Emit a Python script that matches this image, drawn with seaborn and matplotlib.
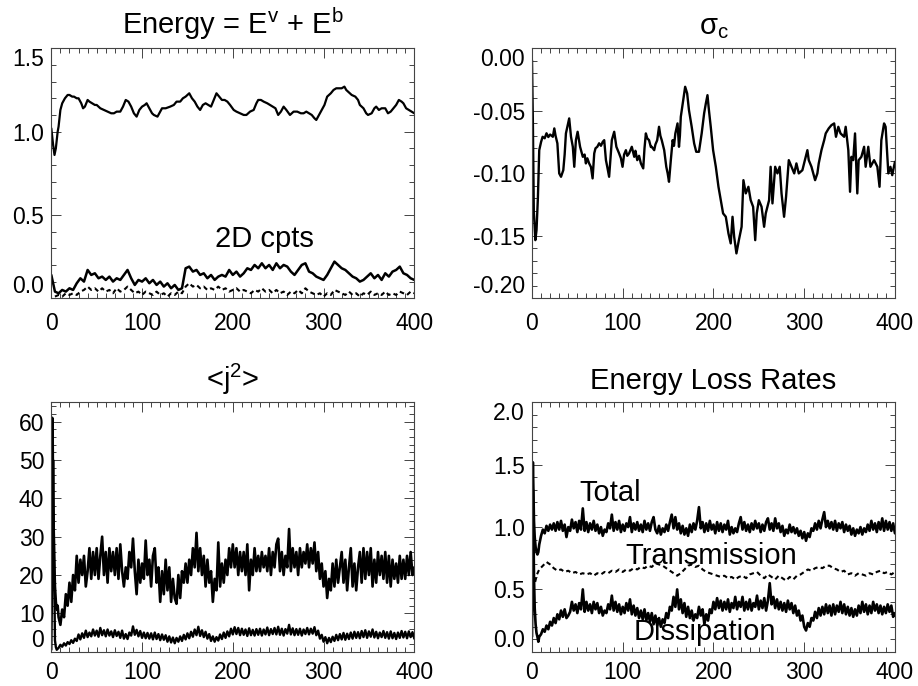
import numpy as np
import matplotlib
matplotlib.use("Agg")
import matplotlib.pyplot as plt
import seaborn as sns
from matplotlib.ticker import MultipleLocator, FormatStrFormatter

# ---------------------------------------------------------------- data
# total energy E^v + E^b (sample times and values)
energy_t = [0, 1, 2, 3.5, 5, 7, 8, 10, 12, 15, 18, 20, 23, 25, 28, 30, 33, 35, 37, 40,
            42, 45, 48, 50, 54, 58, 62, 66, 69, 72, 76, 79, 82, 85, 88, 91, 94, 97, 100,
            103, 105, 108, 111, 113, 117, 120, 122, 126, 131, 135, 138, 142, 145, 148,
            152, 155, 158, 161, 164, 167, 170, 173, 176, 179, 182, 185, 188, 191, 194,
            197, 201, 204, 208, 212, 215, 219, 223, 226, 228, 231, 234, 238, 241, 244,
            247, 250, 253, 256, 259, 263, 267, 271, 275, 278, 281, 284, 287, 290, 292,
            295, 298, 301, 304, 308, 311, 314, 317, 320, 323, 325, 327, 331, 335, 338,
            340, 344, 347, 349, 353, 356, 358, 361, 364, 368, 371, 374, 377, 380, 383,
            386, 388, 391, 394, 397, 400]
energy_total = [1.02, 0.97, 0.92, 0.86, 0.90, 1.00, 1.03, 1.13, 1.17, 1.20, 1.22, 1.22,
                1.21, 1.21, 1.20, 1.20, 1.17, 1.14, 1.15, 1.19, 1.18, 1.17, 1.16, 1.16,
                1.14, 1.13, 1.12, 1.11, 1.11, 1.12, 1.12, 1.15, 1.19, 1.18, 1.15, 1.11,
                1.09, 1.13, 1.15, 1.16, 1.17, 1.14, 1.11, 1.10, 1.09, 1.12, 1.14, 1.14,
                1.15, 1.16, 1.18, 1.18, 1.20, 1.21, 1.23, 1.20, 1.18, 1.15, 1.13, 1.16,
                1.17, 1.16, 1.15, 1.19, 1.23, 1.21, 1.19, 1.19, 1.18, 1.16, 1.13, 1.12,
                1.11, 1.10, 1.10, 1.12, 1.13, 1.17, 1.19, 1.19, 1.18, 1.17, 1.16, 1.15,
                1.14, 1.10, 1.12, 1.15, 1.13, 1.10, 1.12, 1.12, 1.11, 1.11, 1.12, 1.11,
                1.10, 1.08, 1.07, 1.10, 1.13, 1.16, 1.21, 1.23, 1.25, 1.26, 1.26, 1.26,
                1.27, 1.25, 1.24, 1.22, 1.21, 1.19, 1.16, 1.14, 1.11, 1.10, 1.11, 1.14,
                1.15, 1.13, 1.14, 1.14, 1.11, 1.12, 1.14, 1.16, 1.19, 1.18, 1.17, 1.14,
                1.13, 1.12, 1.11]

# 2D components of the energy, sampled every 4 time units
cpt_step = 4
cpt_solid = [0.14, 0.04, 0.03, 0.05, 0.04, 0.06, 0.05, 0.09, 0.12, 0.10, 0.17, 0.14, 0.15,
             0.12, 0.13, 0.11, 0.13, 0.10, 0.12, 0.11, 0.14, 0.17, 0.12, 0.08, 0.11, 0.10,
             0.12, 0.09, 0.11, 0.08, 0.10, 0.07, 0.09, 0.06, 0.08, 0.05, 0.06, 0.18, 0.19,
             0.16, 0.17, 0.14, 0.15, 0.12, 0.14, 0.11, 0.13, 0.14, 0.13, 0.17, 0.14, 0.16,
             0.13, 0.15, 0.18, 0.17, 0.20, 0.18, 0.21, 0.18, 0.20, 0.17, 0.21, 0.18, 0.20,
             0.19, 0.16, 0.14, 0.17, 0.20, 0.21, 0.16, 0.15, 0.13, 0.12, 0.11, 0.14, 0.18,
             0.22, 0.20, 0.18, 0.17, 0.15, 0.13, 0.12, 0.10, 0.11, 0.13, 0.15, 0.12, 0.14,
             0.11, 0.15, 0.13, 0.16, 0.17, 0.19, 0.15, 0.14, 0.12, 0.11]
cpt_dashed = [0.01, 0.02, 0.01, 0.03, 0.02, 0.03, 0.02, 0.04, 0.05, 0.07, 0.05, 0.06, 0.04,
              0.06, 0.04, 0.05, 0.03, 0.06, 0.04, 0.05, 0.07, 0.05, 0.03, 0.04, 0.02, 0.04,
              0.03, 0.02, 0.04, 0.02, 0.03, 0.01, 0.03, 0.02, 0.04, 0.03, 0.07, 0.09, 0.07,
              0.08, 0.06, 0.07, 0.05, 0.06, 0.05, 0.07, 0.05, 0.06, 0.04, 0.05, 0.06, 0.04,
              0.05, 0.04, 0.03, 0.05, 0.04, 0.06, 0.04, 0.05, 0.03, 0.05, 0.03, 0.04, 0.02,
              0.04, 0.03, 0.05, 0.03, 0.06, 0.04, 0.03, 0.02, 0.03, 0.01, 0.03, 0.02, 0.05,
              0.04, 0.03, 0.02, 0.04, 0.02, 0.03, 0.01, 0.03, 0.02, 0.04, 0.02, 0.03, 0.02,
              0.04, 0.02, 0.03, 0.02, 0.04, 0.03, 0.02, 0.04, 0.03]

# normalised cross helicity sigma_c
sigma_t = [0, 1, 2, 3.7, 5, 6.5, 8, 10, 11.7, 14, 16, 18, 20, 23, 24.6, 26, 28, 30, 32, 34.5,
           36, 37.4, 39, 41, 43, 45, 46.6, 48.4, 50.3, 53, 56, 58, 59.4, 61, 63, 65, 66.8,
           68.6, 70, 72, 74, 76, 78, 79.6, 81.5, 83, 85, 86.5, 88, 90.6, 93, 96, 98, 99.8,
           101.5, 103.5, 105, 107, 110, 112.7, 114, 116, 118, 120, 122.6, 124, 125.5, 127,
           129, 131, 132, 134.7, 136, 138, 140, 141.5, 143, 145.7, 148, 149.5, 151, 153,
           155, 156.5, 158, 160.4, 162, 163, 164, 166.6, 168.8, 171, 173, 176, 178.7, 181,
           184, 187, 189.7, 191.6, 193.4, 195, 197, 199.6, 202.6, 205.5, 208, 210.6, 213.6,
           216.5, 219, 221, 222.8, 225.3, 228, 231, 233, 235.6, 238.5, 241, 243.7, 246,
           247.7, 250, 253, 255.8, 257.6, 261.3, 263, 265, 268, 270.5, 273, 275, 277.8,
           280, 283, 286, 289, 291.4, 294, 298, 301.7, 303.5, 305, 308, 312, 314.5, 316,
           319, 322, 323.7, 327, 330, 333, 335, 337.6, 340, 344, 345.7, 348.6, 350.5, 352,
           354, 356, 358.5, 360, 363, 366, 367.7, 370.6, 373, 377, 380.6, 383, 385, 388,
           389.7, 392.7, 395, 397, 400]
sigma_c = [-0.0095, -0.06, -0.13, -0.1535, -0.1455, -0.12, -0.0815, -0.075, -0.0708, -0.072,
           -0.068, -0.071, -0.069, -0.0708, -0.0641, -0.070, -0.0761, -0.1001, -0.1028,
           -0.0975, -0.085, -0.0681, -0.0628, -0.0561, -0.0708, -0.0788, -0.0948, -0.0735,
           -0.0668, -0.0788, -0.0868, -0.085, -0.0921, -0.088, -0.0921, -0.095, -0.1041,
           -0.0841, -0.080, -0.0788, -0.076, -0.078, -0.0748, -0.0735, -0.0895, -0.095,
           -0.1028, -0.088, -0.0735, -0.0668, -0.0788, -0.0841, -0.088, -0.0948, -0.085,
           -0.0815, -0.086, -0.0841, -0.0788, -0.0868, -0.082, -0.0895, -0.086, -0.0921,
           -0.0961, -0.080, -0.0681, -0.072, -0.0735, -0.079, -0.0788, -0.0815, -0.077,
           -0.0735, -0.0628, -0.070, -0.0735, -0.0815, -0.0948, -0.100, -0.1068, -0.0895,
           -0.0735, -0.078, -0.0681, -0.0601, -0.0788, -0.070, -0.0548, -0.0415, -0.0308,
           -0.0361, -0.0495, -0.0628, -0.0761, -0.0828, -0.0828, -0.0681, -0.0521, -0.0441,
           -0.0375, -0.0495, -0.0628, -0.0815, -0.0948, -0.1108, -0.1215, -0.1321, -0.1348,
           -0.1481, -0.1561, -0.1348, -0.1508, -0.1641, -0.1535, -0.1428, -0.1055, -0.1161,
           -0.1108, -0.1215, -0.1268, -0.1535, -0.1321, -0.1215, -0.1268, -0.1428, -0.1321,
           -0.1215, -0.0948, -0.1241, -0.0948, -0.1001, -0.0948, -0.1161, -0.1348, -0.1188,
           -0.0895, -0.0948, -0.1001, -0.0921, -0.1001, -0.0975, -0.0868, -0.0815, -0.0895,
           -0.0948, -0.1055, -0.1001, -0.0921, -0.0815, -0.0735, -0.0681, -0.0641, -0.0615,
           -0.0601, -0.0708, -0.0628, -0.0681, -0.0708, -0.0628, -0.0815, -0.1148, -0.0868,
           -0.0895, -0.0681, -0.1161, -0.0895, -0.0868, -0.0788, -0.0948, -0.0788, -0.0948,
           -0.0895, -0.0948, -0.1108, -0.0735, -0.0601, -0.0628, -0.1001, -0.0948, -0.1015,
           -0.0908]

# mean square current <j^2>: initial transient, then every 2 units
j2_upper_head_t = [0, 0.5, 1, 1.5, 2, 3, 4, 5, 6, 7, 8]
j2_upper_head = [10, 30, 61, 55, 40, 26, 17, 13, 11, 12, 9]
j2_upper_start, j2_upper_step = 10, 2
j2_upper = [7, 11, 9, 15, 12, 18, 13, 20, 16, 25,
            18, 24, 20, 25, 17, 21, 27, 19, 26, 20,
            27, 19, 25, 30, 20, 26, 18, 27, 21, 26,
            20, 27, 19, 28, 21, 17, 22, 19, 26, 22,
            29.5, 21, 15, 24, 18, 23, 19, 29, 20, 24,
            17, 25, 27, 18, 22, 13, 21, 15, 24, 16,
            22, 13, 19, 14, 12.5, 20, 14, 21, 18, 23,
            18, 24, 20, 27, 22, 31, 21, 27, 20, 25,
            17, 24, 18, 21, 13, 19, 16, 28.5, 17, 23,
            18, 24, 20, 27, 22, 28, 22, 27, 20, 26,
            21, 26, 20, 28, 16, 24, 20, 27, 21, 25,
            21, 26, 22, 25, 21, 27, 20, 26, 22, 28,
            29.5, 21, 26, 20, 25, 22, 32, 21, 27, 22,
            26, 20, 27, 22, 26, 23, 28, 22, 27, 23,
            28.5, 21, 26, 19, 23, 17, 21, 14, 19, 16,
            23, 17, 24, 18, 22, 26, 18, 24, 16, 22,
            27, 17, 23, 16, 22, 26, 18, 27, 19, 26,
            20, 27, 17, 24, 18, 26, 20, 25, 19, 26,
            18, 25, 17, 24, 19, 23, 18, 25, 19, 24,
            19, 25, 20, 26, 20, 22]
j2_lower_head_t = [0, 1, 2, 3, 4, 5, 6]
j2_lower_head = [0.5, 20, 50, 25, 3, 1.2, 0.5]
j2_lower_start, j2_lower_step = 8, 2
j2_lower = [1.0, 1.8, 1.3, 2.2, 1.6, 2.5, 2.0, 3.0, 2.3, 3.4,
            2.8, 4.5, 3.2, 4.8, 3.6, 5.5, 3.8, 5.0, 4.0, 5.8,
            4.2, 5.5, 3.9, 6.2, 4.3, 5.6, 4.0, 5.8, 4.2, 5.3,
            3.8, 5.6, 4.1, 5.2, 3.6, 5.5, 3.4, 4.6, 3.3, 5.0,
            4.2, 6.6, 4.4, 5.7, 4.0, 5.4, 3.6, 5.0, 3.5, 4.9,
            3.4, 4.8, 3.2, 5.0, 3.3, 4.6, 3.0, 4.5, 3.1, 4.3,
            2.6, 4.0, 2.4, 3.7, 2.2, 3.6, 2.6, 4.0, 2.8, 4.4,
            3.2, 4.8, 3.5, 5.2, 3.9, 5.8, 4.3, 6.5, 4.1, 5.6,
            3.8, 5.2, 3.4, 4.6, 2.8, 4.0, 2.6, 3.8, 2.9, 4.5,
            3.3, 5.0, 3.6, 5.3, 4.0, 6.0, 4.5, 6.4, 4.6, 6.2,
            4.3, 6.0, 4.4, 5.8, 4.1, 6.1, 4.3, 5.7, 4.2, 5.9,
            4.4, 6.0, 4.2, 5.8, 4.5, 6.3, 4.3, 5.9, 4.6, 6.2,
            4.5, 6.5, 4.4, 6.0, 4.2, 5.9, 4.7, 7.0, 4.5, 6.1,
            4.3, 5.9, 4.4, 6.0, 4.2, 5.8, 4.6, 6.2, 4.5, 6.0,
            4.7, 6.4, 4.3, 5.5, 3.4, 4.4, 2.6, 3.8, 2.2, 3.6,
            2.5, 3.9, 2.8, 4.4, 3.0, 4.6, 3.2, 4.9, 3.1, 4.7,
            3.3, 5.0, 3.4, 5.2, 3.6, 5.1, 3.5, 5.4, 3.8, 5.6,
            3.6, 5.3, 3.9, 5.8, 3.7, 5.2, 3.5, 5.0, 3.8, 5.4,
            3.6, 5.1, 3.4, 5.3, 3.5, 4.9, 3.3, 5.0, 3.6, 5.4,
            3.7, 5.2, 3.5, 5.3, 3.8, 5.1, 3.4]

# energy loss rates: initial transient, then every 2 units from t = 10
loss_head_t = [0, 0.5, 1, 1.6, 2.2, 3, 4, 5, 6, 7, 8]
total_head = [0.5, 1.25, 1.52, 1.3, 1.05, 0.92, 0.84, 0.80, 0.78, 0.80, 0.86]
dissip_head = [0.12, 0.6, 1.30, 1.0, 0.6, 0.35, 0.22, 0.15, 0.12, 0.08, 0.12]
loss_start, loss_step = 10, 2
total_rate = [0.93, 0.98, 0.95, 1.01, 0.97, 1.02, 0.98, 1.03, 0.97, 1.04,
              0.98, 1.05, 0.97, 1.02, 0.92, 1.00, 0.97, 1.06, 0.99, 1.04,
              0.96, 1.05, 0.98, 1.15, 0.97, 1.04, 0.96, 1.03, 0.98, 1.05,
              0.97, 1.02, 0.95, 1.00, 0.93, 0.98, 0.96, 1.03, 0.99, 1.10,
              0.97, 1.04, 0.98, 1.05, 0.96, 1.02, 0.97, 1.03, 1.00, 1.08,
              0.96, 1.03, 0.98, 1.04, 0.97, 1.02, 0.96, 1.05, 0.98, 1.03,
              0.97, 1.04, 1.08, 0.98, 0.95, 1.01, 0.94, 0.99, 0.96, 1.02,
              0.97, 1.04, 1.10, 0.99, 1.08, 0.98, 1.03, 0.95, 1.01, 0.94,
              0.99, 0.93, 1.02, 0.96, 1.03, 0.98, 1.05, 1.16, 0.99, 1.04,
              0.96, 1.03, 0.97, 1.05, 0.98, 1.02, 0.95, 1.04, 0.97, 1.03,
              0.96, 1.02, 0.98, 1.05, 0.94, 1.00, 0.95, 0.99, 0.96, 1.03,
              1.08, 0.98, 1.04, 0.97, 1.02, 0.96, 1.03, 0.98, 1.05, 0.99,
              1.03, 0.96, 1.02, 0.97, 1.04, 1.07, 0.98, 1.03, 0.97, 1.07,
              0.99, 1.03, 0.96, 1.01, 0.93, 0.98, 0.95, 1.02, 0.96, 1.00,
              0.95, 0.99, 0.93, 0.97, 0.91, 0.96, 0.89, 0.95, 0.92, 0.99,
              0.97, 1.03, 0.98, 1.05, 0.99, 1.06, 1.12, 1.00, 1.05, 0.99,
              1.04, 0.98, 1.05, 0.97, 1.03, 0.99, 1.04, 0.96, 1.02, 0.97,
              1.01, 0.94, 0.99, 0.93, 0.98, 0.95, 1.00, 0.94, 0.99, 0.96,
              1.02, 0.97, 1.05, 0.98, 1.03, 0.96, 1.04, 0.98, 1.07, 0.97,
              1.05, 0.98, 1.04, 0.97, 1.03, 0.95]
dissipation = [0.14, 0.18, 0.16, 0.21, 0.18, 0.24, 0.21, 0.27, 0.23, 0.30,
               0.26, 0.33, 0.28, 0.34, 0.27, 0.29, 0.32, 0.40, 0.33, 0.38,
               0.31, 0.39, 0.34, 0.50, 0.32, 0.40, 0.33, 0.38, 0.31, 0.40,
               0.34, 0.39, 0.31, 0.36, 0.29, 0.33, 0.31, 0.38, 0.34, 0.45,
               0.33, 0.40, 0.32, 0.38, 0.30, 0.36, 0.31, 0.39, 0.33, 0.42,
               0.30, 0.37, 0.29, 0.35, 0.27, 0.33, 0.26, 0.34, 0.25, 0.31,
               0.24, 0.31, 0.22, 0.29, 0.21, 0.27, 0.20, 0.26, 0.23, 0.31,
               0.27, 0.36, 0.33, 0.44, 0.36, 0.50, 0.34, 0.42, 0.31, 0.39,
               0.28, 0.36, 0.27, 0.33, 0.25, 0.30, 0.27, 0.36, 0.29, 0.34,
               0.22, 0.30, 0.25, 0.34, 0.31, 0.40, 0.34, 0.43, 0.35, 0.41,
               0.33, 0.40, 0.34, 0.42, 0.32, 0.39, 0.35, 0.44, 0.34, 0.40,
               0.36, 0.44, 0.33, 0.40, 0.34, 0.42, 0.33, 0.39, 0.36, 0.45,
               0.34, 0.41, 0.35, 0.43, 0.33, 0.41, 0.55, 0.38, 0.44, 0.35,
               0.42, 0.34, 0.40, 0.33, 0.39, 0.32, 0.41, 0.34, 0.39, 0.31,
               0.37, 0.29, 0.33, 0.25, 0.29, 0.20, 0.17, 0.23, 0.20, 0.27,
               0.25, 0.32, 0.27, 0.35, 0.29, 0.36, 0.30, 0.38, 0.31, 0.37,
               0.29, 0.38, 0.30, 0.37, 0.32, 0.40, 0.31, 0.38, 0.30, 0.36,
               0.29, 0.35, 0.28, 0.34, 0.29, 0.37, 0.31, 0.40, 0.32, 0.38,
               0.30, 0.37, 0.31, 0.40, 0.33, 0.38, 0.31, 0.37, 0.30, 0.36,
               0.31, 0.38, 0.32, 0.37, 0.28, 0.31]
trans_head_t = [3.5, 5.5]
trans_head = [0.56, 0.62]
trans_start, trans_step = 8, 4
transmission = [0.66, 0.69, 0.72, 0.70, 0.67, 0.65, 0.66, 0.64, 0.65, 0.63, 0.64, 0.62,
                0.63, 0.62, 0.63, 0.61, 0.63, 0.62, 0.64, 0.63, 0.65, 0.64, 0.66, 0.64,
                0.66, 0.65, 0.67, 0.66, 0.68, 0.67, 0.69, 0.68, 0.71, 0.70, 0.69, 0.67,
                0.65, 0.63, 0.61, 0.63, 0.66, 0.69, 0.70, 0.68, 0.69, 0.66, 0.64, 0.63,
                0.62, 0.61, 0.60, 0.61, 0.59, 0.60, 0.58, 0.60, 0.61, 0.59, 0.62, 0.63,
                0.64, 0.61, 0.59, 0.62, 0.60, 0.58, 0.61, 0.59, 0.57, 0.60, 0.58, 0.61,
                0.62, 0.64, 0.66, 0.65, 0.67, 0.68, 0.67, 0.69, 0.69, 0.67, 0.66, 0.64,
                0.65, 0.62, 0.63, 0.61, 0.63, 0.62, 0.61, 0.63, 0.62, 0.64, 0.65, 0.63,
                0.64, 0.62, 0.64]

x_ticks = [0, 100, 200, 300, 400]


def series(head_t, head_v, start, step, vals):
    """Join an irregular head with a regularly sampled tail."""
    t_tail = start + step * np.arange(len(vals))
    return (np.concatenate([np.asarray(head_t, float), t_tail]),
            np.concatenate([np.asarray(head_v, float), np.asarray(vals, float)]))


# ---------------------------------------------------------------- style
sns.set_style("ticks")
plt.rcParams["font.family"] = ["Liberation Sans", "DejaVu Sans"]
plt.rcParams["mathtext.fontset"] = "custom"
plt.rcParams["mathtext.rm"] = "Liberation Sans"
plt.rcParams["mathtext.it"] = "Liberation Sans:italic"
plt.rcParams["mathtext.bf"] = "Liberation Sans:bold"
plt.rcParams["axes.unicode_minus"] = False
plt.rcParams["text.color"] = "black"
plt.rcParams["axes.titlecolor"] = "black"

TICK_FS = 16.5
TITLE_FS = 21
NOTE_FS = 21
LW = 1.6
LW_NOISY = 1.9
EDGE = "#444444"

fig = plt.figure(figsize=(9.18, 6.86), dpi=100)
w, h_top, h_bot = 0.3954, 0.3644, 0.3633
ax1 = fig.add_axes([0.0559, 0.5652, w, h_top])
ax2 = fig.add_axes([0.5795, 0.5652, w, h_top])
ax3 = fig.add_axes([0.0559, 0.0500, w, h_bot])
ax4 = fig.add_axes([0.5795, 0.0500, w, h_bot])


def line(ax, x, y, dashed=False, lw=LW):
    kw = dict(linestyle=(0, (2.2, 1.6))) if dashed else {}
    sns.lineplot(x=np.asarray(x, float), y=np.asarray(y, float), ax=ax, color="black",
                 linewidth=lw, estimator=None, sort=False, **kw)


def frame(ax, ylim, ymajor, yminor, fmt, title, edge_top=True, edge_bottom=True,
          xpad=10):
    ax.set_xlim(0, 400)
    ax.set_ylim(*ylim)
    ax.set_xticks(x_ticks)
    ax.xaxis.set_minor_locator(MultipleLocator(10))
    ax.yaxis.set_major_locator(MultipleLocator(ymajor))
    ax.yaxis.set_minor_locator(MultipleLocator(yminor))
    ax.yaxis.set_major_formatter(FormatStrFormatter(fmt))
    ax.set_xlabel("")
    ax.set_ylabel("")
    for s in ax.spines.values():
        s.set_color(EDGE)
        s.set_linewidth(0.8)
    ax.tick_params(which="both", direction="in", top=True, right=True,
                   color=EDGE, width=0.7, labelsize=TICK_FS, labelcolor="black")
    ax.tick_params(which="major", length=7)
    ax.tick_params(which="minor", length=3.5)
    ax.tick_params(axis="x", which="major", pad=xpad)
    ax.tick_params(axis="y", which="major", pad=5)
    ax.set_title(title, fontsize=TITLE_FS, pad=10, color="black")
    # keep the end labels inside the frame height
    yt = [v for v in ax.get_yticks() if ylim[0] - 1e-9 <= v <= ylim[1] + 1e-9]
    ax.set_yticks(yt)
    ticks = ax.yaxis.get_major_ticks()
    if edge_bottom:
        ticks[0].label1.set_verticalalignment("bottom")
    if edge_top:
        ticks[-1].label1.set_verticalalignment("top")


# ---- Energy
line(ax1, energy_t, energy_total)
t_c = cpt_step * np.arange(len(cpt_solid))
line(ax1, t_c, cpt_solid, lw=1.8)
t_d = cpt_step * (1 + np.arange(len(cpt_dashed)))
line(ax1, t_d, cpt_dashed, dashed=True, lw=1.5)
ax1.text(235, 0.31, "2D cpts", fontsize=NOTE_FS, ha="center", va="baseline")
frame(ax1, (0, 1.5), 0.5, 0.1, "%.1f", r"Energy = E$^{\mathrm{v}}$ + E$^{\mathrm{b}}$")

# ---- sigma_c
line(ax2, sigma_t, sigma_c, lw=1.7)
frame(ax2, (-0.2, 0.0), 0.05, 0.01, "%.2f", r"$\mathrm{\sigma}_{\mathrm{c}}$")

# ---- <j^2>
tu, vu = series(j2_upper_head_t, j2_upper_head, j2_upper_start, j2_upper_step, j2_upper)
tl, vl = series(j2_lower_head_t, j2_lower_head, j2_lower_start, j2_lower_step, j2_lower)
line(ax3, tu, vu, lw=LW_NOISY)
line(ax3, tl, vl, lw=1.7)
frame(ax3, (0, 65), 10, 2, "%d", r"<j$^{2}$>", edge_top=False, xpad=6.5)

# ---- Energy loss rates
tt, vt = series(loss_head_t, total_head, loss_start, loss_step, total_rate)
td, vd = series(loss_head_t, dissip_head, loss_start, loss_step, dissipation)
tr, vr = series(trans_head_t, trans_head, trans_start, trans_step, transmission)
line(ax4, tt, vt, lw=LW_NOISY)
line(ax4, td, vd, lw=LW_NOISY)
line(ax4, tr, vr, dashed=True, lw=1.5)
ax4.text(86, 1.21, "Total", fontsize=NOTE_FS, ha="center", va="baseline")
ax4.text(198, 0.70, "Transmission", fontsize=NOTE_FS, ha="center", va="baseline")
ax4.text(191, 0.097, "Dissipation", fontsize=NOTE_FS, ha="center", va="baseline")
frame(ax4, (0, 2.0), 0.5, 0.1, "%.1f", "Energy Loss Rates", xpad=6.5)

fig.savefig("out.png", dpi=100)
